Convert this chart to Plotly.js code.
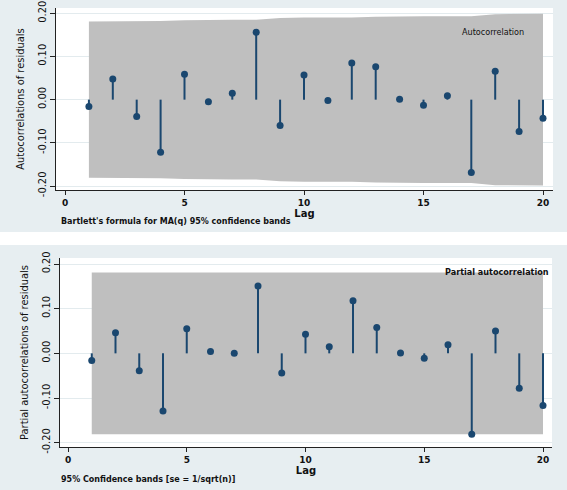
<!DOCTYPE html>
<html>
<head>
<meta charset="utf-8">
<script src="https://cdn.plot.ly/plotly-3.0.1.min.js"></script>
<style>html,body{margin:0;padding:0;background:#fff;}#chart{width:567px;height:490px;}</style>
</head>
<body>
<div id="chart"></div>
<script>
// ---- data ----
const lags = [1,2,3,4,5,6,7,8,9,10,11,12,13,14,15,16,17,18,19,20];
const acf = [-0.016,0.048,-0.039,-0.122,0.059,-0.005,0.015,0.156,-0.060,0.057,-0.002,0.085,0.076,0.001,-0.013,0.009,-0.169,0.066,-0.074,-0.043];
const acfBand = [0.181,0.181,0.181,0.182,0.184,0.185,0.185,0.185,0.189,0.190,0.190,0.190,0.192,0.193,0.193,0.193,0.193,0.198,0.198,0.199];
const pacf = [-0.016,0.046,-0.039,-0.129,0.055,0.004,0.000,0.151,-0.044,0.043,0.015,0.118,0.058,0.001,-0.011,0.019,-0.181,0.050,-0.078,-0.117];
const pacfBand = [0.181,0.181,0.181,0.181,0.181,0.181,0.181,0.181,0.181,0.181,0.181,0.181,0.181,0.181,0.181,0.181,0.181,0.181,0.181,0.181];
const xTickVals = [0,5,10,15,20];
const yTickVals = [0.2,0.1,0,-0.1,-0.2];
const yTickText = ["0.20","0.10","0.00","-0.10","-0.20"];
const titles = {
  acfY: "Autocorrelations of residuals",
  pacfY: "Partial autocorrelations of residuals",
  x: "Lag",
  acfNote: "Bartlett's formula for MA(q) 95% confidence bands",
  pacfNote: "95% Confidence bands [se = 1/sqrt(n)]",
  acfLegend: "Autocorrelation",
  pacfLegend: "Partial autocorrelation"
};

// ---- styling ----
const W = 567, H = 490;
const navy = '#1a476f';
const bandCol = '#bfbfbf';
const bgBlue = '#e7eef1';
const gridCol = '#e3ebee';
const narrow = '"Liberation Sans Narrow", "DejaVu Sans Condensed", Arial, sans-serif';
const wide = '"DejaVu Sans", Verdana, sans-serif';

function px(x){ return x / W; }
function py(y){ return 1 - y / H; }

function stems(xs, ys){
  const sx = [], sy = [];
  xs.forEach((x,i)=>{ sx.push(x,x,null); sy.push(0,ys[i],null); });
  return {sx, sy};
}

function panelTraces(xa, ya, vals, band){
  const s = stems(lags, vals);
  return [
    {x: lags, y: band, xaxis: xa, yaxis: ya, mode: 'lines', line: {width: 0, color: bandCol}, hoverinfo: 'skip', showlegend: false},
    {x: lags, y: band.map(v => -v), xaxis: xa, yaxis: ya, mode: 'lines', line: {width: 0, color: bandCol}, fill: 'tonexty', fillcolor: bandCol, hoverinfo: 'skip', showlegend: false},
    {x: s.sx, y: s.sy, xaxis: xa, yaxis: ya, mode: 'lines', line: {width: 2, color: navy}, showlegend: false},
    {x: lags, y: vals, xaxis: xa, yaxis: ya, mode: 'markers', marker: {size: 7, color: navy}, showlegend: false}
  ];
}

const data = [].concat(panelTraces('x','y',acf,acfBand), panelTraces('x2','y2',pacf,pacfBand));

// geometry (pixels)
const gTop = {l:56, r:553, t:8, b:190, x0:65, x20:543, y02:13.3, ym02:186};
const gBot = {l:60, r:552, t:258, b:447, x0:68, x20:543, y02:264, ym02:442.7};

function ranges(g){
  const u = (g.x20 - g.x0)/20;
  const v = (g.ym02 - g.y02)/0.4;
  const y0 = (g.y02 + g.ym02)/2;
  return {
    xr: [(g.l - g.x0)/u, (g.r - g.x0)/u],
    yr: [(y0 - g.b)/v, (y0 - g.t)/v]
  };
}
const rt = ranges(gTop), rb = ranges(gBot);

function xaxis(g, r){
  return {
    domain: [px(g.l), px(g.r)], range: r.xr,
    tickvals: xTickVals, ticks: 'outside', ticklen: 4, tickwidth: 1, tickcolor: '#222',
    showline: true, linecolor: '#222', linewidth: 1, showgrid: false, zeroline: false,
    tickfont: {family: wide, size: 9, color: '#111', weight: 'bold'},
    title: {text: titles.x, font: {family: wide, size: 10, color: '#111', weight: 'bold'}, standoff: 0}
  };
}
function yaxis(g, r, t){
  return {
    domain: [py(g.b), py(g.t)], range: r.yr,
    tickvals: yTickVals, ticktext: yTickText, tickangle: -90,
    ticks: 'outside', ticklen: 5, tickwidth: 1, tickcolor: '#222',
    showline: true, linecolor: '#222', linewidth: 1,
    showgrid: true, gridcolor: gridCol, gridwidth: 1, zeroline: false,
    tickfont: {family: narrow, size: 11, color: '#111'},
    title: {text: t, font: {family: narrow, size: 11, color: '#111'}, standoff: 8}
  };
}

const xa1 = xaxis(gTop, rt); xa1.anchor = 'y';
const xa2 = xaxis(gBot, rb); xa2.anchor = 'y2';
const ya1 = yaxis(gTop, rt, titles.acfY); ya1.anchor = 'x';
const ya2 = yaxis(gBot, rb, titles.pacfY); ya2.anchor = 'x2';

const layout = {
  width: W, height: H,
  margin: {l:0, r:0, t:0, b:0},
  paper_bgcolor: '#ffffff', plot_bgcolor: 'rgba(0,0,0,0)',
  showlegend: false,
  xaxis: xa1, yaxis: ya1, xaxis2: xa2, yaxis2: ya2,
  shapes: [
    {type:'rect', xref:'paper', yref:'paper', x0:0, x1:1, y0:py(232), y1:1, fillcolor:bgBlue, line:{width:0}, layer:'below'},
    {type:'rect', xref:'paper', yref:'paper', x0:0, x1:1, y0:0, y1:py(245), fillcolor:bgBlue, line:{width:0}, layer:'below'},
    {type:'rect', xref:'paper', yref:'paper', x0:px(gTop.l), x1:px(gTop.r), y0:py(gTop.b), y1:py(gTop.t), fillcolor:'#ffffff', line:{width:0}, layer:'below'},
    {type:'rect', xref:'paper', yref:'paper', x0:px(gBot.l), x1:px(gBot.r), y0:py(gBot.b), y1:py(gBot.t), fillcolor:'#ffffff', line:{width:0}, layer:'below'}
  ],
  annotations: [
    {xref:'paper', yref:'paper', x:px(59), y:py(221), xanchor:'left', yanchor:'middle', showarrow:false, text: titles.acfNote, font:{family: wide, size: 8, color:'#111', weight:'bold'}},
    {xref:'paper', yref:'paper', x:px(59), y:py(479), xanchor:'left', yanchor:'middle', showarrow:false, text: titles.pacfNote, font:{family: wide, size: 8, color:'#111', weight:'bold'}},
    {xref:'paper', yref:'paper', x:px(493), y:py(32), xanchor:'center', yanchor:'middle', showarrow:false, text: titles.acfLegend, font:{family: narrow, size: 9, color:'#111'}},
    {xref:'paper', yref:'paper', x:px(497), y:py(272), xanchor:'center', yanchor:'middle', showarrow:false, text: titles.pacfLegend, font:{family: narrow, size: 9, color:'#111', weight:'bold'}}
  ]
};

Plotly.newPlot('chart', data, layout, {staticPlot: true, displayModeBar: false});
</script>
</body>
</html>
